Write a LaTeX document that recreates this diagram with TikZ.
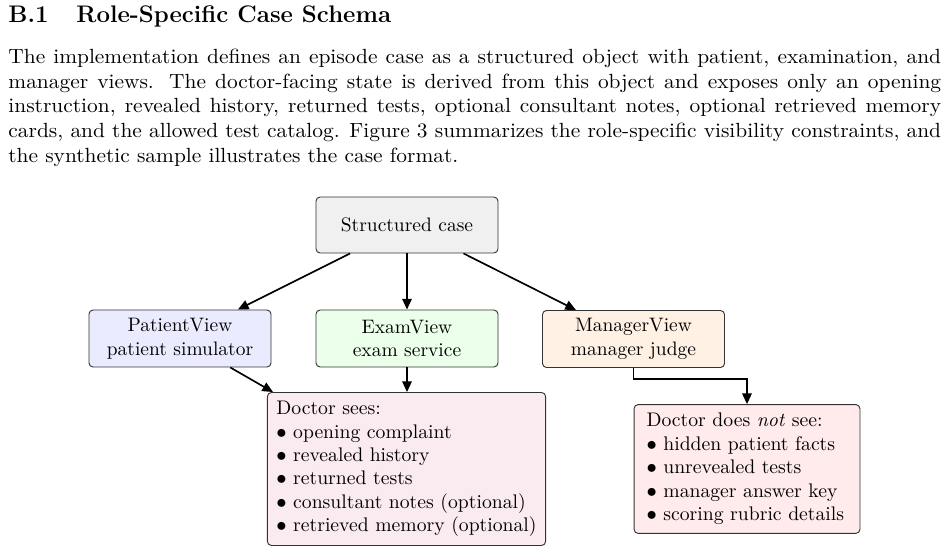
\documentclass[tikz,border=0pt]{standalone}
\usepackage{fontspec}
\usetikzlibrary{arrows.meta,calc}
\newfontfamily\parafont{lmroman10-regular.otf}[FakeStretch=1.045]
\definecolor{casefill}{rgb}{0.94,0.94,0.94}
\definecolor{patfill}{rgb}{0.92,0.92,1.0}
\definecolor{examfill}{rgb}{0.92,1.0,0.92}
\definecolor{mgrfill}{rgb}{1.0,0.95,0.90}
\definecolor{seefill}{rgb}{0.98,0.92,0.94}
\definecolor{nosefill}{rgb}{1.0,0.92,0.92}
\tikzset{
  box/.style={draw=black!80, line width=0.45pt, rounded corners=2pt, align=center,
    font=\fontsize{9.5pt}{11.5pt}\selectfont, inner sep=0pt},
  viewbox/.style={box, minimum width=88.8pt, minimum height=27.8pt},
  listbox/.style={box, align=left, font=\fontsize{9.6pt}{11.45pt}\selectfont, inner ysep=4.2pt},
  arr/.style={thick, -{Triangle[length=5.2pt,width=4.6pt]}}
}
\begin{document}
\begin{tikzpicture}[x=0.4878pt,y=-0.4878pt]
\useasboundingbox (0,0) rectangle (949,553);
% heading and paragraph
\node[anchor=base west, inner sep=0pt, font=\fontsize{11.7pt}{14pt}\selectfont\bfseries] (head) at (8,23)
  {B.1\hspace{13.6pt}Role-Specific Case Schema};
\node[anchor=north west, inner sep=0pt, text width=455pt, align=justify,
      font=\parafont\fontsize{10pt}{12pt}\selectfont] (para) at (8,48.8)
  {\hyphenpenalty=10000\exhyphenpenalty=10000\emergencystretch=2em\noindent The implementation defines an episode case as a structured object with patient, examination, and manager views. The doctor-facing state is derived from this object and exposes only an opening instruction, revealed history, returned tests, optional consultant notes, optional retrieved memory cards, and the allowed test catalog. Figure 3 summarizes the role-specific visibility constraints, and the synthetic sample illustrates the case format.};
% diagram
\node[viewbox, fill=casefill, minimum height=27.3pt] (case) at (407,225) {Structured case};
\node[viewbox, fill=patfill] (pat) at (180,338.5) {PatientView\\patient simulator};
\node[viewbox, fill=examfill] (exam) at (407,338.5) {ExamView\\exam service};
\node[viewbox, fill=mgrfill] (mgr) at (633.5,339) {ManagerView\\manager judge};
\node[listbox, fill=seefill, inner xsep=4.4pt] (sees) at (406.5,469)
  {Doctor sees:\\$\bullet$ opening complaint\\$\bullet$ revealed history\\$\bullet$ returned tests\\$\bullet$ consultant notes (optional)\\$\bullet$ retrieved memory (optional)};
\node[listbox, fill=nosefill, inner xsep=6.1pt, text width=98pt] (nosee) at (747,469)
  {Doctor does \textit{not} see:\\$\bullet$ hidden patient facts\\$\bullet$ unrevealed tests\\$\bullet$ manager answer key\\$\bullet$ scoring rubric details};
\draw[arr] (case) -- (pat);
\draw[arr] (case) -- (exam);
\draw[arr] (case) -- (mgr);
\draw[arr] (pat) -- (sees);
\draw[arr] (exam) -- (exam |- sees.north);
\draw[arr] (mgr.south) -- ++(0,11) -| (nosee.north);
\end{tikzpicture}
\end{document}
